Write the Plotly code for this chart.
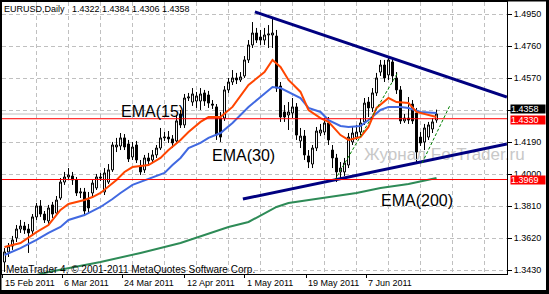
import plotly.graph_objects as go

# ---------------- data ----------------
bar = list(range(109))  # daily bar number, left to right

open_ = [1.3479, 1.3539, 1.3574, 1.3622, 1.3675, 1.3693, 1.3675, 1.3663, 1.3747, 1.3812,
         1.3764, 1.3723, 1.3818, 1.3770, 1.3859, 1.3954, 1.3984, 1.3990, 1.3966, 1.3889,
         1.3895, 1.3847, 1.3889, 1.3919, 1.3984, 1.3895, 1.3954, 1.4026, 1.4162, 1.4168,
         1.4216, 1.4180, 1.4103, 1.4174, 1.4049, 1.4026, 1.4097, 1.4085, 1.4115, 1.4156,
         1.4216, 1.4221, 1.4210, 1.4198, 1.4358, 1.4293, 1.4453, 1.4429, 1.4435, 1.4435,
         1.4483, 1.4471, 1.4417, 1.4400, 1.4334, 1.4334, 1.4501, 1.4548, 1.4572, 1.4560,
         1.4584, 1.4679, 1.4768, 1.4839, 1.4815, 1.4797, 1.4827, 1.4827, 1.4821, 1.4524,
         1.4370, 1.4352, 1.4364, 1.4400, 1.4198, 1.4227, 1.4109, 1.4061, 1.4156, 1.4245,
         1.4251, 1.4305, 1.4144, 1.4097, 1.4014, 1.4014, 1.4055, 1.4192, 1.4221, 1.4251,
         1.4311, 1.4429, 1.4394, 1.4483, 1.4607, 1.4649, 1.4590, 1.4667, 1.4572, 1.4501,
         1.4317, 1.4334, 1.4417, 1.4364, 1.4221, 1.4192, 1.4221, 1.4269, 1.4322]
high = [1.3562, 1.3592, 1.3634, 1.3699, 1.3729, 1.3717, 1.3705, 1.3764, 1.3830, 1.3847,
        1.3782, 1.3818, 1.3836, 1.3871, 1.3978, 1.4014, 1.4037, 1.4014, 1.3984, 1.3919,
        1.3919, 1.3895, 1.3966, 1.4002, 1.4008, 1.4037, 1.4061, 1.4192, 1.4216, 1.4245,
        1.4239, 1.4204, 1.4192, 1.4198, 1.4085, 1.4115, 1.4127, 1.4144, 1.4174, 1.4275,
        1.4251, 1.4257, 1.4233, 1.4352, 1.4382, 1.4477, 1.4483, 1.4512, 1.4489, 1.4512,
        1.4501, 1.4495, 1.4441, 1.4417, 1.4370, 1.4524, 1.4572, 1.4619, 1.4602, 1.4607,
        1.4702, 1.4797, 1.4904, 1.4869, 1.4857, 1.4869, 1.4886, 1.4934, 1.4857, 1.4548,
        1.4411, 1.4429, 1.4453, 1.4423, 1.4275, 1.4263, 1.4144, 1.4174, 1.4281, 1.4299,
        1.4334, 1.4340, 1.4174, 1.4121, 1.4073, 1.4097, 1.4245, 1.4281, 1.4293, 1.4334,
        1.4453, 1.4459, 1.4512, 1.4602, 1.4679, 1.4679, 1.4702, 1.4691, 1.4607, 1.4524,
        1.4358, 1.4459, 1.4441, 1.4394, 1.4251, 1.4299, 1.4311, 1.4334, 1.4384]
low = [1.3420, 1.3509, 1.3551, 1.3598, 1.3652, 1.3646, 1.3533, 1.3634, 1.3729, 1.3747,
       1.3711, 1.3705, 1.3741, 1.3758, 1.3847, 1.3937, 1.3966, 1.3937, 1.3871, 1.3859,
       1.3752, 1.3770, 1.3871, 1.3907, 1.3960, 1.3877, 1.3942, 1.4014, 1.4132, 1.4144,
       1.4144, 1.4073, 1.4085, 1.4067, 1.3996, 1.4008, 1.4055, 1.4067, 1.4097, 1.4144,
       1.4198, 1.4186, 1.4156, 1.4186, 1.4275, 1.4275, 1.4435, 1.4406, 1.4394, 1.4382,
       1.4406, 1.4394, 1.4388, 1.4204, 1.4192, 1.4317, 1.4483, 1.4530, 1.4536, 1.4548,
       1.4572, 1.4661, 1.4750, 1.4780, 1.4768, 1.4768, 1.4750, 1.4750, 1.4489, 1.4311,
       1.4311, 1.4263, 1.4334, 1.4204, 1.4156, 1.4085, 1.4037, 1.4037, 1.4138, 1.4227,
       1.4233, 1.4174, 1.4037, 1.3954, 1.3978, 1.3990, 1.4037, 1.4174, 1.4204, 1.4233,
       1.4293, 1.4340, 1.4370, 1.4465, 1.4584, 1.4548, 1.4560, 1.4548, 1.4477, 1.4299,
       1.4305, 1.4299, 1.4299, 1.4067, 1.4168, 1.4144, 1.4204, 1.4245, 1.4306]
close = [1.3539, 1.3574, 1.3610, 1.3675, 1.3693, 1.3669, 1.3652, 1.3747, 1.3812, 1.3764,
         1.3729, 1.3800, 1.3764, 1.3847, 1.3954, 1.3984, 1.3996, 1.3966, 1.3889, 1.3895,
         1.3782, 1.3800, 1.3948, 1.3984, 1.3978, 1.4008, 1.4026, 1.4174, 1.4174, 1.4216,
         1.4162, 1.4091, 1.4162, 1.4085, 1.4014, 1.4097, 1.4079, 1.4115, 1.4156, 1.4216,
         1.4221, 1.4210, 1.4186, 1.4317, 1.4293, 1.4453, 1.4459, 1.4477, 1.4465, 1.4477,
         1.4435, 1.4423, 1.4411, 1.4233, 1.4221, 1.4501, 1.4548, 1.4572, 1.4560, 1.4578,
         1.4679, 1.4768, 1.4839, 1.4797, 1.4797, 1.4827, 1.4833, 1.4839, 1.4512, 1.4340,
         1.4340, 1.4370, 1.4400, 1.4233, 1.4227, 1.4115, 1.4073, 1.4156, 1.4257, 1.4263,
         1.4305, 1.4204, 1.4097, 1.4014, 1.4037, 1.4067, 1.4221, 1.4245, 1.4251, 1.4305,
         1.4423, 1.4394, 1.4483, 1.4572, 1.4649, 1.4572, 1.4679, 1.4584, 1.4501, 1.4317,
         1.4334, 1.4322, 1.4317, 1.4132, 1.4186, 1.4275, 1.4293, 1.4311, 1.4358]

ema15_bar = [0, 4, 8, 11, 14, 16, 20, 22, 24, 26, 28, 30, 32, 36, 39, 41, 44, 46, 49, 51,
             54, 57, 61, 65, 67, 69, 71, 74, 76, 79, 81, 84, 86, 89, 91, 93, 96, 98, 101,
             103, 106, 108]
ema15 = [1.3568, 1.3592, 1.3657, 1.3699, 1.3788, 1.3824, 1.3847, 1.3865, 1.3889, 1.3925,
         1.3966, 1.4014, 1.4043, 1.4055, 1.4097, 1.4144, 1.4204, 1.4251, 1.4311, 1.4340,
         1.4340, 1.4400, 1.4530, 1.4607, 1.4679, 1.4637, 1.4560, 1.4489, 1.4382, 1.4334,
         1.4311, 1.4233, 1.4204, 1.4221, 1.4281, 1.4394, 1.4453, 1.4429, 1.4423, 1.4370,
         1.4352, 1.4340]

ema30_bar = [0, 4, 8, 11, 14, 16, 20, 24, 27, 29, 32, 36, 40, 42, 44, 46, 49, 51, 54, 57,
             61, 64, 67, 69, 71, 74, 76, 79, 81, 84, 86, 89, 91, 94, 96, 99, 101, 104, 108]
ema30 = [1.3521, 1.3562, 1.3610, 1.3652, 1.3687, 1.3729, 1.3758, 1.3806, 1.3853, 1.3889,
         1.3937, 1.3972, 1.4008, 1.4055, 1.4097, 1.4156, 1.4186, 1.4216, 1.4245, 1.4305,
         1.4400, 1.4459, 1.4518, 1.4512, 1.4489, 1.4453, 1.4394, 1.4370, 1.4322, 1.4287,
         1.4281, 1.4287, 1.4322, 1.4382, 1.4400, 1.4400, 1.4394, 1.4370, 1.4364]

ema200_bar = [8, 11, 24, 34, 44, 56, 61, 68, 71, 80, 88, 94, 101, 108]
ema200 = [1.3402, 1.3420, 1.3479, 1.3533, 1.3592, 1.3687, 1.3717, 1.3806, 1.3830, 1.3859,
          1.3889, 1.3919, 1.3942, 1.3978]

# trend lines drawn on the chart (bar, price)
upper_trend_bar = [62.6, 125.6]
upper_trend = [1.4964, 1.4459]
lower_trend_bar = [59.6, 125.6]
lower_trend = [1.3853, 1.4180]
dotted1_bar = [82.6, 98.4]
dotted1 = [1.3966, 1.4607]
dotted2_bar = [104.4, 111.4]
dotted2 = [1.4067, 1.4411]

# horizontal levels
level_lines = [1.4330, 1.3969]
bid = 1.4358

# axis labels (1.4380 is hidden behind the bid label in the original)
price_ticks = [1.3430, 1.3620, 1.3810, 1.4000, 1.4190, 1.4380, 1.4570, 1.4760, 1.4950]
price_tick_text = ["1.3430", "1.3620", "1.3810", "1.4000", "1.4190", "", "1.4570",
                   "1.4760", "1.4950"]
date_tick_bar = [-0.4, 14.4, 29.4, 45.1, 60.1, 75.4, 90.4]
date_labels = ["15 Feb 2011", "6 Mar 2011", "24 Mar 2011", "12 Apr 2011",
               "1 May 2011", "19 May 2011", "7 Jun 2011"]
title_text = "EURUSD,Daily\u00a0\u00a0 1.4322 1.4384 1.4306 1.4358"

# ---------------- layout geometry ----------------
W, H = 549, 294
ML, MR, MT, MB = 2, 42, 2, 20
PW, PH = W - ML - MR, H - MT - MB
XMIN = -0.625
XMAX = XMIN + PW / 4.0
YMAX = 1.50230
YMIN = YMAX - PH * 0.00059375


def px2x(px):
    return XMIN + (px - ML) / 4.0


def py2y(py):
    return YMAX - (py - MT) * (YMAX - YMIN) / PH


def fx(px):  # figure pixel -> paper x
    return (px - ML) / PW


def fy(py):  # figure pixel -> paper y
    return (H - MB - py) / PH


FONT = "Liberation Sans, Arial, sans-serif"

fig = go.Figure()

# watermark (below everything)
fig.add_trace(go.Scatter(
    x=[px2x(364)], y=[py2y(156)], mode="text", text=["Журнал ForTrader.ru"],
    textposition="middle right", textfont=dict(family=FONT, size=17, color="#c8c8c8"),
    cliponaxis=False, hoverinfo="skip", showlegend=False))

fig.add_trace(go.Candlestick(
    x=bar, open=open_, high=high, low=low, close=close,
    increasing=dict(line=dict(color="black", width=1), fillcolor="white"),
    decreasing=dict(line=dict(color="black", width=1), fillcolor="black"),
    whiskerwidth=0, showlegend=False, hoverinfo="skip"))

fig.add_trace(go.Scatter(x=ema200_bar, y=ema200, mode="lines",
                         line=dict(color="#2E8B57", width=2), showlegend=False))
fig.add_trace(go.Scatter(x=ema30_bar, y=ema30, mode="lines",
                         line=dict(color="#4169E1", width=2), showlegend=False))
fig.add_trace(go.Scatter(x=ema15_bar, y=ema15, mode="lines",
                         line=dict(color="#FF4500", width=2), showlegend=False))

for xs, ys in [(upper_trend_bar, upper_trend), (lower_trend_bar, lower_trend)]:
    fig.add_trace(go.Scatter(x=xs, y=ys, mode="lines",
                             line=dict(color="#000080", width=3), showlegend=False))
for xs, ys in [(dotted1_bar, dotted1), (dotted2_bar, dotted2)]:
    fig.add_trace(go.Scatter(x=xs, y=ys, mode="lines",
                             line=dict(color="#008000", width=1, dash="3px,2px"),
                             showlegend=False))

shapes = []
# bid line (grey) and red levels
shapes.append(dict(type="line", xref="paper", x0=0, x1=1, yref="y", y0=bid, y1=bid,
                   line=dict(color="#c0c0c0", width=1), layer="below"))
for lv in level_lines:
    shapes.append(dict(type="line", xref="paper", x0=0, x1=1, yref="y", y0=lv, y1=lv,
                       line=dict(color="red", width=1)))
# outer window frame
shapes.append(dict(type="rect", xref="paper", yref="paper",
                   x0=fx(0.5), x1=fx(548.5), y0=fy(293.5), y1=fy(0.5),
                   line=dict(color="black", width=2)))
shapes.append(dict(type="rect", xref="paper", yref="paper",
                   x0=fx(546), x1=fx(549.5), y0=fy(294.5), y1=fy(-0.5),
                   fillcolor="black", line=dict(width=0)))
shapes.append(dict(type="rect", xref="paper", yref="paper",
                   x0=fx(-0.5), x1=fx(549.5), y0=fy(294.5), y1=fy(290),
                   fillcolor="black", line=dict(width=0)))

ann = []
ann.append(dict(x=0, xref="paper", y=1, yref="paper", xanchor="left", yanchor="top",
                text=title_text, showarrow=False, font=dict(family=FONT, size=9, color="black"),
                xshift=0, yshift=0))
ann.append(dict(x=0, xref="paper", y=0, yref="paper", xanchor="left", yanchor="bottom",
                text="MetaTrader 4, © 2001-2011 MetaQuotes Software Corp.", showarrow=False,
                font=dict(family=FONT, size=10, color="black"), xshift=2, yshift=-3))
for pos, lab in zip(date_tick_bar, date_labels):
    ann.append(dict(x=pos, xref="x", y=0, yref="paper", xanchor="left", yanchor="top",
                    text=lab, showarrow=False, font=dict(family=FONT, size=9, color="black"),
                    yshift=-2))
ann.append(dict(x=px2x(119), y=py2y(111), xanchor="left", yanchor="middle", text="EMA(15)",
                showarrow=False, font=dict(family=FONT, size=16, color="black")))
ann.append(dict(x=px2x(210), y=py2y(155), xanchor="left", yanchor="middle", text="EMA(30)",
                showarrow=False, font=dict(family=FONT, size=16, color="black")))
ann.append(dict(x=px2x(379), y=py2y(200), xanchor="left", yanchor="middle", text="EMA(200)",
                showarrow=False, font=dict(family=FONT, size=16, color="black")))
# price labels on the scale
for val, bg, ysh in [(bid, "black", 5), (level_lines[0], "red", -1), (level_lines[1], "red", 0)]:
    ann.append(dict(x=1, xref="paper", y=val, yref="y", xanchor="left", yanchor="middle",
                    text="%.4f" % val, showarrow=False, bgcolor=bg, width=34, height=8,
                    align="left", borderpad=0, xshift=3, yshift=ysh,
                    font=dict(family=FONT, size=9, color="white")))

fig.update_layout(
    width=W, height=H, margin=dict(l=ML, r=MR, t=MT, b=MB, autoexpand=False),
    paper_bgcolor="white", plot_bgcolor="white",
    shapes=shapes, annotations=ann, showlegend=False, hovermode=False,
    xaxis=dict(range=[XMIN, XMAX], showline=True, linecolor="black", linewidth=1, mirror=True,
               tickmode="array", tickvals=date_tick_bar, ticktext=[""] * len(date_tick_bar),
               ticks="outside", ticklen=3, tickcolor="black", showgrid=False, zeroline=False,
               rangeslider=dict(visible=False),
               minor=dict(tickmode="array", tickvals=[7.875 + 8 * k for k in range(15)],
                          showgrid=True, gridcolor="#c0c0c0", griddash="4px,3px",
                          gridwidth=1, ticks="")),
    yaxis=dict(range=[YMIN, YMAX], side="right", showline=True, linecolor="black",
               linewidth=1, mirror=True, tickmode="array", tickvals=price_ticks,
               ticktext=price_tick_text, ticks="outside", ticklen=4,
               tickcolor="black", tickfont=dict(family=FONT, size=9, color="black"),
               showgrid=True, gridcolor="#c0c0c0", griddash="4px,3px", gridwidth=1,
               zeroline=False),
)

fig.write_html("out.html")
